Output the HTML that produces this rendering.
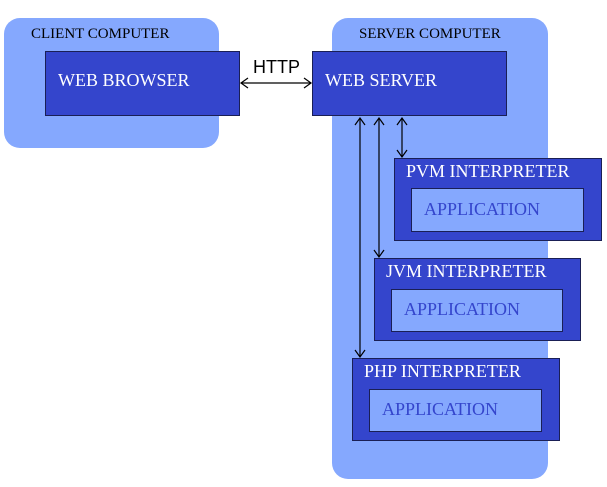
<!DOCTYPE html>
<html><head><style>
body{margin:0;width:607px;height:487px;background:#fff;position:relative;overflow:hidden;font-family:"Liberation Serif",serif}
div{position:absolute;box-sizing:border-box}
.c{background:#85a8fe;border-radius:16px}
.d{background:#3445cc;border:1.5px solid #1a1f55;color:#fff;font-size:18px;white-space:nowrap}
.a{background:#85a8fe;border:1.5px solid #1a1f55;color:#3445cc;font-size:18px;white-space:nowrap}
.t{font-size:15px;color:#000;white-space:nowrap}
</style></head><body>
<div class="c" style="left:4px;top:18px;width:215px;height:130px"></div>
<div class="c" style="left:332px;top:18px;width:216px;height:461px"></div>
<div class="t" style="left:31px;top:26px">CLIENT COMPUTER</div>
<div class="t" style="left:359px;top:26px">SERVER COMPUTER</div>
<div class="d" style="left:45px;top:51px;width:195px;height:65px;padding:18px 0 0 12px">WEB BROWSER</div>
<div class="d" style="left:312px;top:51px;width:195px;height:65px;padding:18px 0 0 12px">WEB SERVER</div>
<div class="d" style="left:394px;top:158px;width:208px;height:83px;padding:2px 0 0 11px">PVM INTERPRETER</div>
<div class="a" style="left:411px;top:188px;width:173px;height:44px;padding:10px 0 0 12px">APPLICATION</div>
<div class="d" style="left:374px;top:258px;width:207px;height:83px;padding:2px 0 0 11px">JVM INTERPRETER</div>
<div class="a" style="left:391px;top:289px;width:172px;height:43px;padding:9px 0 0 12px">APPLICATION</div>
<div class="d" style="left:352px;top:358px;width:208px;height:83px;padding:2px 0 0 11px">PHP INTERPRETER</div>
<div class="a" style="left:369px;top:389px;width:173px;height:43px;padding:9px 0 0 12px">APPLICATION</div>
<div style="left:253px;top:57px;font-family:'Liberation Sans',sans-serif;font-size:18px">HTTP</div>
<svg width="607" height="487" style="position:absolute;left:0;top:0" fill="none" stroke="#000" stroke-width="1.2">
<line x1="241" y1="83" x2="311" y2="83"/>
<path d="M248 78 L241 83 L248 88 M304 78 L311 83 L304 88"/>
<line x1="360" y1="118" x2="360" y2="357"/>
<path d="M355 125 L360 118 L365 125 M355 350 L360 357 L365 350"/>
<line x1="379" y1="118" x2="379" y2="257"/>
<path d="M374 125 L379 118 L384 125 M374 250 L379 257 L384 250"/>
<line x1="402" y1="118" x2="402" y2="157"/>
<path d="M397 125 L402 118 L407 125 M397 150 L402 157 L407 150"/>
</svg>
</body></html>
